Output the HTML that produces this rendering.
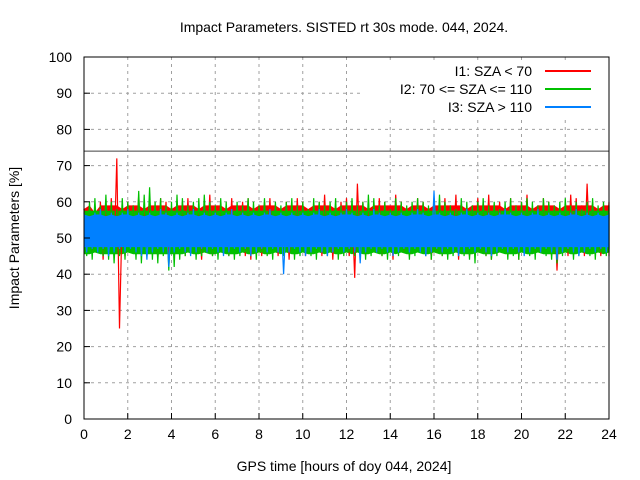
<!DOCTYPE html>
<html><head><meta charset="utf-8"><style>
body{margin:0;background:#fff}
svg{display:block;font-family:"Liberation Sans",sans-serif}
</style></head><body>
<svg id="chart" width="640" height="480" viewBox="0 0 640 480">
<text x="344" y="32" font-size="14" text-anchor="middle">Impact Parameters. SISTED rt 30s mode. 044, 2024.</text>
<text x="344" y="471" font-size="14" text-anchor="middle">GPS time [hours of doy 044, 2024]</text>
<text transform="translate(19,238) rotate(-90)" font-size="14" text-anchor="middle">Impact Parameters [%]</text>
<g id="grid"></g><g id="series"></g><g id="axes"></g><g id="legend"></g>
</svg>
<script>
const xTicks=[0,2,4,6,8,10,12,14,16,18,20,22,24];
const yTicks=[0,10,20,30,40,50,60,70,80,90,100];
const refLine=74;
const redHi=[58,59,57,60,59,61,72,58,60,59,62,58,60,59,61,60,58,59,60,61,59,58,60,62,59,60,58,61,59,60,61,58,59,60,61,59,58,60,59,61,60,58,59,60,62,59,58,60,61,59,65,60,58,59,61,60,59,62,60,58,59,61,60,58,59,60,61,59,62,60,58,59,61,60,62,59,60,58,61,59,60,62,58,59,61,60,59,58,60,62,61,59,65,60,58,59,60];
const redLo=[46,45,47,44,46,45,25,45,47,46,45,47,46,44,46,45,47,46,45,46,47,44,46,45,47,46,45,46,47,45,44,46,45,47,46,45,46,44,47,46,45,46,47,45,46,44,46,47,45,39,46,45,47,46,45,46,44,47,46,45,46,47,45,44,46,45,47,46,44,46,45,47,46,45,44,46,47,45,46,44,47,46,45,46,47,45,41,46,45,47,46,45,46,47,45,46,45];
const greenHi=[58,60,61,59,62,60,58,61,60,59,63,62,64,60,61,59,60,62,61,59,60,61,62,60,59,61,60,58,60,59,61,60,59,61,58,60,59,60,61,59,60,58,61,60,59,60,61,59,60,61,59,60,62,61,59,60,58,61,60,59,60,61,60,59,61,62,60,59,58,61,60,59,60,61,59,60,58,60,61,59,60,61,60,59,61,60,59,60,61,59,60,58,60,61,59,60,59];
const greenLo=[45,44,46,45,44,43,45,44,46,44,43,45,44,43,45,41,42,44,45,46,44,45,46,45,44,46,45,44,45,46,45,44,46,45,44,46,45,46,44,45,46,45,44,46,45,46,44,45,46,45,46,44,45,46,45,44,46,45,46,44,45,46,45,44,46,45,44,45,46,45,44,43,46,45,44,45,46,44,45,44,46,45,44,46,45,44,43,45,46,44,45,46,45,44,46,45,46];
const blueHi=[57,56,57,58,56,57,56,57,58,56,57,56,57,56,58,57,56,57,56,57,58,56,57,56,57,56,57,58,56,57,56,57,56,57,58,56,57,56,57,56,57,56,57,58,56,57,56,57,58,57,56,57,56,58,57,56,57,56,57,56,57,58,57,56,63,57,56,57,56,57,58,56,57,56,57,56,57,58,57,56,57,56,57,58,56,57,56,57,56,57,58,56,57,56,57,56,57];
const blueLo=[46,47,46,47,45,46,47,46,47,46,45,44,46,47,46,42,46,47,46,45,46,47,46,47,46,45,46,47,46,47,45,46,47,46,47,46,40,46,47,46,45,46,47,46,45,46,47,46,47,46,43,46,47,46,47,46,45,46,47,46,47,46,45,46,47,46,47,46,45,46,47,46,47,46,45,46,47,46,47,46,45,46,47,46,47,46,44,46,47,46,45,46,47,46,47,46,47];
const X0=84,X1=609,Y0=419,Y1=57;
const xs=t=>X0+(X1-X0)*t/24, ys=v=>Y0-(Y0-Y1)*v/100;
const NS='http://www.w3.org/2000/svg';
function mk(tag,attrs,parent){const e=document.createElementNS(NS,tag);for(const k in attrs)e.setAttribute(k,attrs[k]);parent.appendChild(e);return e;}
const grid=document.getElementById('grid'),axes=document.getElementById('axes'),ser=document.getElementById('series'),leg=document.getElementById('legend');
xTicks.forEach(t=>{
 if(t>0&&t<24){const g=mk('line',{x1:xs(t),x2:xs(t),y1:Y1,y2:Y0,stroke:'#a0a0a0','stroke-dasharray':'3,4'},grid);
 
 }
 const l=mk('text',{x:xs(t),y:Y0+20,'font-size':14,'text-anchor':'middle'},axes);l.textContent=t;
 
 
 mk('line',{x1:xs(t),x2:xs(t),y1:Y0,y2:Y0-6,stroke:'#000'},axes);
});
yTicks.forEach(v=>{
 if(v>0&&v<100){const g=mk('line',{x1:X0,x2:X1,y1:ys(v),y2:ys(v),stroke:'#a0a0a0','stroke-dasharray':'3,4'},grid);
 
 }
 const l=mk('text',{x:X0-12,y:ys(v)+5,'font-size':14,'text-anchor':'end'},axes);l.textContent=v;
 
 
 mk('line',{x1:X0,x2:X0+6,y1:ys(v),y2:ys(v),stroke:'#000'},axes);
});
function band(hi,lo,col,name,capHi,capLo){
 const n=hi.length,dt=24/(n-1);let d='';
 for(let i=0;i<n;i++)d+=(i?'L':'M')+xs(i*dt).toFixed(1)+','+ys(Math.min(hi[i],capHi)).toFixed(1);
 for(let i=n-1;i>=0;i--)d+='L'+xs(i*dt).toFixed(1)+','+ys(Math.max(lo[i],capLo)).toFixed(1);
 const p=mk('path',{d:d+'Z',fill:col},ser);
 
 
}
function series(hi,lo,col,name){
 const n=hi.length,dt=24/(n-1);let d='';
 for(let i=0;i<n;i++){const t=i*dt;d+=(i?'L':'M')+xs(t).toFixed(1)+','+ys(hi[i]).toFixed(1)+'L'+xs(Math.min(24,t+dt/2)).toFixed(1)+','+ys(lo[i]).toFixed(1);}
 const p=mk('path',{d:d,fill:'none',stroke:col,'stroke-width':1.2},ser);
 
 
}
band(redHi,redLo,'#ff0000','series-i1-band',59,46);
band(greenHi,greenLo,'#00c000','series-i2-band',57.5,45.5);
series(redHi,redLo,'#ff0000','series-i1-red');
series(greenHi,greenLo,'#00c000','series-i2-green');
band(blueHi,blueLo,'#0080ff','series-i3-band',56.5,47.5);
series(blueHi,blueLo,'#0080ff','series-i3-blue');
const rl=mk('line',{x1:X0,x2:X1,y1:ys(refLine),y2:ys(refLine),stroke:'#404040'},ser);


const legItems=[['I1: SZA < 70','#ff0000'],['I2: 70 <= SZA <= 110','#00c000'],['I3: SZA > 110','#0080ff']];
const lb=mk('rect',{x:360,y:60,width:246,height:60,fill:'#fff'},leg);


legItems.forEach((it,i)=>{
 const y=71+i*18;
 const t=mk('text',{x:532,y:y+5,'font-size':14,'text-anchor':'end'},leg);t.textContent=it[0];
 
 
 mk('line',{x1:545,x2:591,y1:y,y2:y,stroke:it[1],'stroke-width':2},leg);
});
const fr=mk('rect',{x:X0,y:Y1,width:X1-X0,height:Y0-Y1,fill:'none',stroke:'#000'},axes);


</script>
</body></html>
